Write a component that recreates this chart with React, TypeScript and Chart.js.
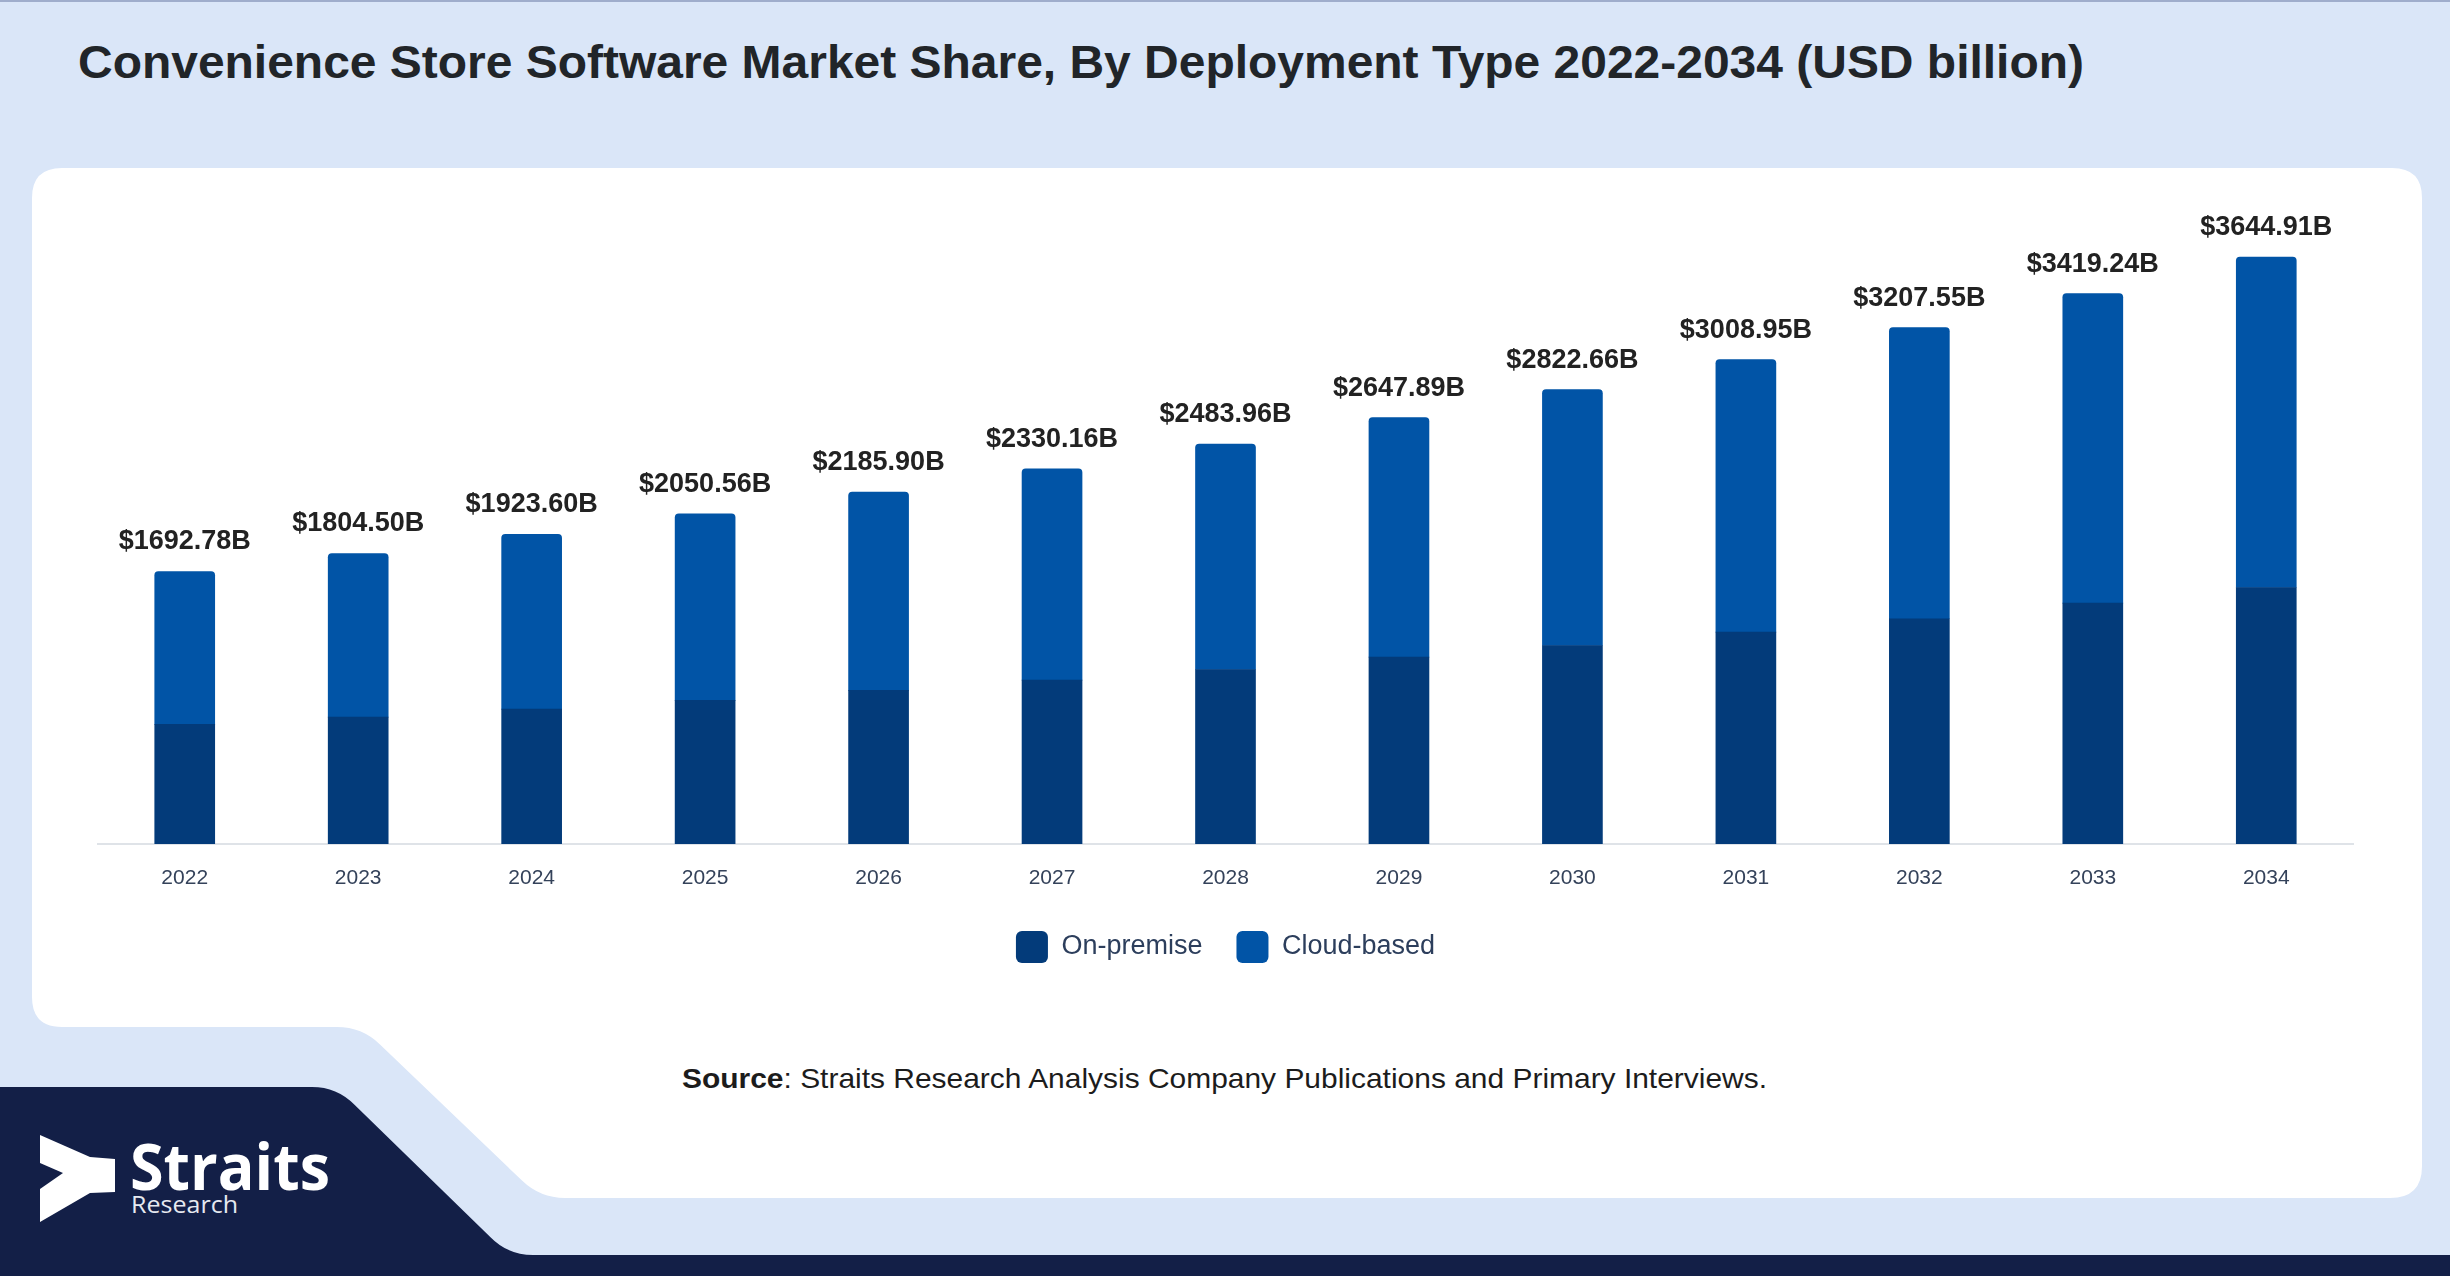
import React, { useEffect, useRef } from 'react';
import { Chart, registerables } from 'chart.js';

Chart.register(...registerables);

const years = ['2022', '2023', '2024', '2025', '2026', '2027', '2028', '2029', '2030', '2031', '2032', '2033', '2034'];
const totals = [1692.78, 1804.5, 1923.6, 2050.56, 2185.9, 2330.16, 2483.96, 2647.89, 2822.66, 3008.95, 3207.55, 3419.24, 3644.91];
const onPremise = [743, 788, 838, 892, 954, 1018, 1084, 1161, 1233, 1316, 1399, 1496, 1593];
const cloudBased = [949.78, 1016.5, 1085.6, 1158.56, 1231.9, 1312.16, 1399.96, 1486.89, 1589.66, 1692.95, 1808.55, 1923.24, 2051.91];
const seriesNames = ['On-premise', 'Cloud-based'];

const FONT = "'Liberation Sans', Arial, Helvetica, sans-serif";
const W = 2450;
const H = 1276;

const totalLabels = {
  id: 'totalLabels',
  afterDatasetsDraw(chart: any) {
    const ctx = chart.ctx;
    const meta = chart.getDatasetMeta(1);
    ctx.save();
    ctx.font = `bold 27px ${FONT}`;
    ctx.fillStyle = '#222222';
    ctx.textAlign = 'center';
    ctx.textBaseline = 'alphabetic';
    meta.data.forEach((el: any, i: number) => {
      ctx.fillText('$' + totals[i].toFixed(2) + 'B', el.x, el.y - 22);
    });
    ctx.restore();
  },
};

export default function App() {
  const canvasRef = useRef<HTMLCanvasElement | null>(null);

  useEffect(() => {
    document.body.style.margin = '0';
    document.body.style.overflow = 'hidden';
    const canvas = canvasRef.current;
    if (!canvas) return;
    Chart.defaults.font.family = FONT;
    const chart = new Chart(canvas, {
      type: 'bar',
      data: {
        labels: years,
        datasets: [
          {
            label: seriesNames[0],
            data: onPremise,
            backgroundColor: '#033b7a',
            borderWidth: 0,
            borderRadius: 0,
            barThickness: 60,
          },
          {
            label: seriesNames[1],
            data: cloudBased,
            backgroundColor: '#0154a6',
            borderWidth: 0,
            borderRadius: 4,
            barThickness: 60,
          },
        ],
      },
      options: {
        responsive: false,
        animation: false,
        devicePixelRatio: 1,
        events: [],
        layout: { padding: { left: 98, right: 97, top: 200, bottom: 303 } },
        scales: {
          x: {
            stacked: true,
            grid: { display: false, drawTicks: false },
            border: { display: true, color: '#dfe3e8', width: 2 },
            ticks: { color: '#34425a', font: { size: 21 }, padding: 22 },
            afterFit: (scale: any) => {
              scale.height = 53;
            },
          },
          y: {
            stacked: true,
            display: false,
            min: 0,
            max: 4000,
          },
        },
        plugins: {
          legend: {
            position: 'bottom',
            labels: {
              color: '#2c3e5c',
              font: { size: 27 },
              boxWidth: 32,
              boxHeight: 32,
              padding: 34,
              useBorderRadius: true,
              borderRadius: 6,
            },
          },
          tooltip: { enabled: false },
          title: { display: false },
        },
      },
      plugins: [totalLabels],
    } as any);
    return () => chart.destroy();
  }, []);

  return (
    <div style={{ position: 'absolute', left: 0, top: 0, width: W, height: H, overflow: 'hidden', background: '#dae6f8' }}>
      <svg width={W} height={H} style={{ position: 'absolute', left: 0, top: 0 }}>
        <rect x={0} y={0} width={W} height={H} fill="#dae6f8" />
        <rect x={0} y={0} width={W} height={2} fill="#9fadcc" />
        <text x={78} y={78} fontFamily={FONT} fontWeight="bold" fontSize={46} fill="#212529" textLength={2006} lengthAdjust="spacingAndGlyphs">
          Convenience Store Software Market Share, By Deployment Type 2022-2034 (USD billion)
        </text>
        <path
          d="M 62 168 H 2392 Q 2422 168 2422 198 V 1166 Q 2422 1198 2390 1198 H 565 Q 540 1198 522 1180.6 L 380 1044.4 Q 362 1027 337 1027 H 62 Q 32 1027 32 997 V 198 Q 32 168 62 168 Z"
          fill="#ffffff"
        />
        <path
          d="M 0 1087 H 312 Q 337 1087 354.5 1104.8 L 490.5 1237.2 Q 508 1255 533 1255 H 2450 V 1276 H 0 Z"
          fill="#131f47"
        />
        <polygon points="40,1135 90,1157 115,1159 115,1192 90,1193 40,1222 40,1189 63,1173 40,1163" fill="#ffffff" />
        <text x={130} y={1190} fontFamily="'Open Sans', 'DejaVu Sans', sans-serif" fontWeight="bold" fontSize={64} fill="#ffffff" textLength={200} lengthAdjust="spacingAndGlyphs">
          Straits
        </text>
        <text x={131} y={1213} fontFamily="'Open Sans', 'DejaVu Sans', sans-serif" fontSize={24} fill="#e6e9f0" textLength={107} lengthAdjust="spacingAndGlyphs">
          Research
        </text>
        <text x={682} y={1088} fontFamily={FONT} fontSize={28} fill="#1c1c1c" textLength={1085} lengthAdjust="spacingAndGlyphs">
          <tspan fontWeight="bold">Source</tspan>: Straits Research Analysis Company Publications and Primary Interviews.
        </text>
      </svg>
      <canvas
        ref={canvasRef}
        width={W}
        height={H}
        style={{ position: 'absolute', left: 0, top: 0, width: W, height: H }}
      />
    </div>
  );
}
